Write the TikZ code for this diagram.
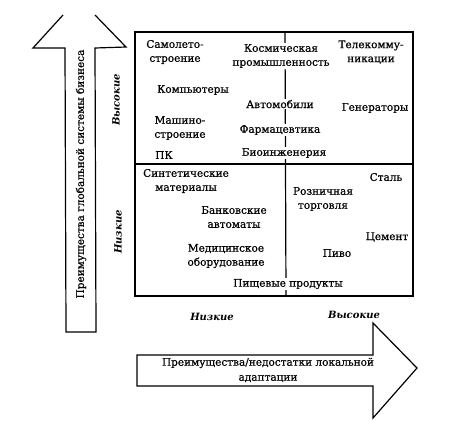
\documentclass[tikz,border=0pt]{standalone}
\usepackage{fontspec}
\setmainfont{DejaVu Serif}
\newfontfamily\darkserif[FakeBold=0.6]{DejaVu Serif}
\begin{document}
\begin{tikzpicture}[x=1pt,y=-1pt,line width=1.2pt,line join=miter,
  lbl/.style={font=\darkserif\fontsize{10.5}{14}\selectfont,align=center,fill=white,inner sep=1pt},
  ax/.style={font=\bfseries\itshape\fontsize{10}{12}\selectfont,inner sep=1pt},
  arrtxt/.style={font=\darkserif\fontsize{10.5}{15}\selectfont,align=center,inner sep=1pt}]
\useasboundingbox (0,0) rectangle (463,421);
% vertical arrow
\draw (63,15) -- (33,48) -- (65,48) -- (66,332) -- (96,332) -- (95,48) -- (126,47) -- (95,15);
\node[arrtxt,rotate=90] (vt) at (81,174) {Преимущества глобальной системы бизнеса};
% horizontal arrow
\draw (137,355) -- (373,355) -- (373,323) -- (417,368) -- (373,418) -- (373,386) -- (137,386) -- cycle;
\node[arrtxt] (ht) at (268,370) {Преимущества/недостатки локальной\\адаптации};
% matrix box
\draw (135,32) rectangle (413,296);
\draw (135,164) -- (413,164);
\draw (285,32) -- (286,296);
% axis labels
\node[ax,rotate=90] (yh) at (116,100) {Высокие};
\node[ax,rotate=90] (yl) at (118,232) {Низкие};
\node[ax] (xl) at (212,317) {Низкие};
\node[ax] (xh) at (354,315) {Высокие};
% cells
\node[lbl] (n1) at (175,52) {Самолето-\\строение};
\node[lbl] (n2) at (193,90) {Компьютеры};
\node[lbl] (n3) at (180,128) {Машино-\\строение};
\node[lbl] (n4) at (164,155) {ПК};
\node[lbl] (n5) at (281,56) {Космическая\\промышленность};
\node[lbl] (n6) at (371,52) {Телекомму-\\никации};
\node[lbl] (n7) at (280,104) {Автомобили};
\node[lbl] (n8) at (375,108) {Генераторы};
\node[lbl] (n9) at (280,130) {Фармацевтика};
\node[lbl] (n10) at (284,153) {Биоинженерия};
\node[lbl] (n11) at (186,181) {Синтетические\\материалы};
\node[lbl] (n12) at (234,217) {Банковские\\автоматы};
\node[lbl] (n13) at (226,256) {Медицинское\\оборудование};
\node[lbl] (n14) at (288,284) {Пищевые продукты};
\node[lbl] (n15) at (323,199) {Розничная\\торговля};
\node[lbl] (n16) at (386,177) {Сталь};
\node[lbl] (n17) at (387,237) {Цемент};
\node[lbl] (n18) at (337,253) {Пиво};
\end{tikzpicture}
\end{document}
